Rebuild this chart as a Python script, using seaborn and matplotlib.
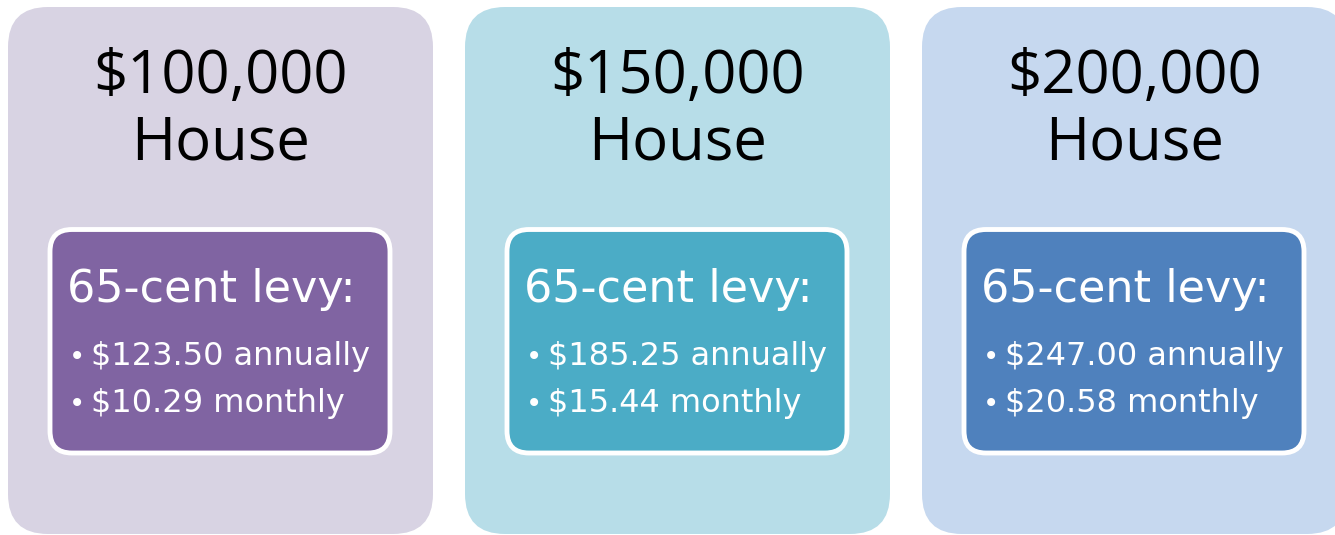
### levy per house value graphic
#   three rounded panels, one per house price, with the levy breakdown

# import statements
from matplotlib.patches import FancyBboxPatch
import matplotlib
matplotlib.use('Agg')
import matplotlib.pyplot as plt
import seaborn as sns

# chart data
houses   = ['$100,000', '$150,000', '$200,000']
levy     = '65-cent levy:'
annually = ['$123.50', '$185.25', '$247.00']
monthly  = ['$10.29', '$15.44', '$20.58']

# panel colours (light outer, strong inner)
outer_colors = ['#D8D3E3', '#B7DDE8', '#C6D8EF']
inner_colors = ['#8064A2', '#4BACC6', '#4F81BD']

# theme first, then fonts (set_theme resets font.family)
sns.set_theme(style = 'white')
plt.rcParams['font.family'] = ['Open Sans', 'DejaVu Sans']
body_font = ['DejaVu Sans']

# figure in pixel units
W, H = 1335, 535
fig = plt.figure(figsize = (W / 100, H / 100), dpi = 100)
ax = fig.add_axes([0, 0, 1, 1])
ax.set_xlim(0, W)
ax.set_ylim(H, 0)
ax.axis('off')

# layout parameters
STEP    = 457
OUTER_W = 425
INNER_W = 340

for i, house in enumerate(houses):
    x0 = 8 + i * STEP
    # outer panel, bottom corners just touching the lower edge
    ax.add_patch(FancyBboxPatch((x0, 7), OUTER_W, 527,
                                boxstyle = 'round,pad=0,rounding_size=40',
                                facecolor = outer_colors[i], edgecolor = 'none'))
    # inner box with white border
    ax.add_patch(FancyBboxPatch((x0 + 42, 229.5), INNER_W, 223.5,
                                boxstyle = 'round,pad=0,rounding_size=22',
                                facecolor = inner_colors[i], edgecolor = 'white',
                                linewidth = 3.5))
    # title
    cx = x0 + OUTER_W / 2
    ax.text(cx, 93, house, ha = 'center', va = 'baseline', fontsize = 43,
            color = 'black')
    ax.text(cx, 160, 'House', ha = 'center', va = 'baseline', fontsize = 43,
            color = 'black')
    # levy heading and bullets
    ax.text(x0 + 59, 302, levy, ha = 'left', va = 'baseline', fontsize = 32,
            color = 'white', family = body_font)
    for j, line in enumerate([annually[i] + ' annually',
                              monthly[i] + ' monthly']):
        yb = 365 + j * 47
        ax.text(x0 + 61, yb, '\u2022', ha = 'left', va = 'baseline',
                fontsize = 20, color = 'white', family = body_font)
        ax.text(x0 + 83, yb, line, ha = 'left', va = 'baseline',
                fontsize = 23, color = 'white', family = body_font)

fig.savefig('out.png', dpi = 100, facecolor = 'white')
